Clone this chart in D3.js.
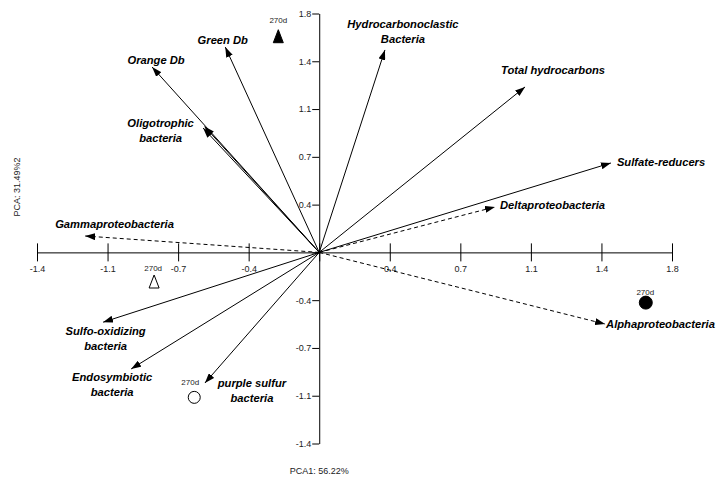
<!DOCTYPE html>
<html>
<head>
<meta charset="utf-8">
<script src="https://cdn.jsdelivr.net/npm/d3@7"></script>
<style>
  body { margin: 0; background: #fff; }
  text { font-family: "Liberation Sans", Arial, sans-serif; }
</style>
</head>
<body>
<script>
const wi = 717, hi = 477;

// loadings (PCA1, PCA2)
const varLabels = [
    ['Hydrocarbonoclastic', 'Bacteria'],
    ['Green Db'],
    ['Orange Db'],
    ['Oligotrophic', 'bacteria'],
    [],
    ['Total hydrocarbons'],
    ['Sulfate-reducers'],
    ['Deltaproteobacteria'],
    ['Alphaproteobacteria'],
    ['Gammaproteobacteria'],
    ['Sulfo-oxidizing', 'bacteria'],
    ['Endosymbiotic', 'bacteria'],
    ['purple sulfur', 'bacteria']
];
const varPC1 = [0.326, -0.466, -0.829, -0.576, -0.569, 1.021, 1.447, 0.872, 1.418, -1.161, -1.072, -0.933, -0.567];
const varPC2 = [1.483, 1.504, 1.358, 0.911, 0.922, 1.212, 0.655, 0.333, -0.525, 0.120, -0.511, -0.854, -0.957];
const dashedVars = ['Deltaproteobacteria', 'Alphaproteobacteria', 'Gammaproteobacteria'];

// samples
const sampleNames = ['270d', '270d', '270d', '270d'];
const samplePC1 = [-0.203, -0.819, -0.620, 1.620];
const samplePC2 = [1.580, -0.217, -1.062, -0.368];

// axes
const tickValues = [-1.4, -1.05, -0.7, -0.35, 0, 0.35, 0.7, 1.05, 1.4, 1.75];
const tickLabels = ['-1.4', '-1.1', '-0.7', '-0.4', '', '0.4', '0.7', '1.1', '1.4', '1.8'];
const xTitle = 'PCA1: 56.22%';
const yTitle = 'PCA: 31.49%2';

// label placement relative to arrow tip: [dx, dy, anchor]
const labelPos = [
    [18, -26, 'middle'], [-2.5, -7, 'middle'], [4, -7, 'middle'], [-42.5, -5, 'middle'], [0, 0, 'middle'],
    [28, -16.5, 'middle'], [6, -0.5, 'start'], [5, -2, 'start'], [1, -0.5, 'start'],
    [-30, -12, 'start'], [2.5, 9, 'middle'], [-19, 8, 'middle'], [47, 0, 'middle']
];
// sample markers: shape, filled, label dx, dy
const sampleStyle = [
    ['triangle', true, 0, -17], ['triangle', false, -1, -14],
    ['circle', false, -4, -15], ['circle', true, -0.5, -11]
];

let svg = d3.select('body')
    .append('svg')
    .attr('width', wi)
    .attr('height', hi);

const x = d3.scaleLinear().domain([-1.4, 1.75]).range([37, 672]);
const y = d3.scaleLinear().domain([-1.4, 1.75]).range([443.5, 13.5]);
const fmt = (d) => tickLabels[tickValues.indexOf(d)];

// x axis through origin
let gx = svg.append('g')
    .attr('transform', `translate(0,${y(0)})`)
    .call(d3.axisBottom(x).tickValues(tickValues).tickFormat(fmt).tickSizeOuter(0));
gx.selectAll('.tick line').attr('y1', -9).attr('y2', 9);
gx.selectAll('.tick text').attr('y', 13).attr('font-size', 9).attr('fill', '#222')
    .attr('font-family', '"Liberation Sans", Arial, sans-serif');

// y axis through origin
let gy = svg.append('g')
    .attr('transform', `translate(${x(0)},0)`)
    .call(d3.axisLeft(y).tickValues(tickValues).tickFormat(fmt).tickSize(7).tickPadding(1).tickSizeOuter(0));
gy.selectAll('.tick text').attr('font-size', 9).attr('fill', '#222')
    .attr('font-family', '"Liberation Sans", Arial, sans-serif');

svg.selectAll('.domain').attr('stroke', '#000');
svg.selectAll('.tick line').attr('stroke', '#000');

// arrowhead
svg.append('defs').append('marker')
    .attr('id', 'head')
    .attr('viewBox', '0 0 10 7')
    .attr('refX', 10).attr('refY', 3.5)
    .attr('markerWidth', 10).attr('markerHeight', 7)
    .attr('markerUnits', 'userSpaceOnUse')
    .attr('orient', 'auto')
    .append('path')
    .attr('d', 'M0,0L10,3.5L0,7Z')
    .attr('fill', '#000');

const vars = varLabels.map((l, i) => ({lines: l, name: l.join(' '), px: varPC1[i], py: varPC2[i], pos: labelPos[i]}));

svg.append('g').selectAll('line')
    .data(vars)
    .enter()
    .append('line')
    .attr('x1', x(0)).attr('y1', y(0))
    .attr('x2', (d) => x(d.px)).attr('y2', (d) => y(d.py))
    .attr('stroke', '#000')
    .attr('stroke-width', 1)
    .attr('stroke-dasharray', (d) => dashedVars.includes(d.name) ? '4,3' : null)
    .attr('marker-end', 'url(#head)');

// variable labels
let lbl = svg.append('g').selectAll('text')
    .data(vars.filter((d) => d.lines.length))
    .enter()
    .append('text')
    .attr('x', (d) => x(d.px) + d.pos[0])
    .attr('y', (d) => y(d.py) + d.pos[1] + 4)
    .attr('text-anchor', (d) => d.pos[2])
    .attr('font-size', 11.2)
    .attr('font-weight', 'bold')
    .attr('font-style', 'italic')
    .attr('fill', '#000');
lbl.selectAll('tspan')
    .data((d) => d.lines.map((t) => ({t: t, x: x(d.px) + d.pos[0]})))
    .enter()
    .append('tspan')
    .attr('x', (d) => d.x)
    .attr('dy', (d, i) => i ? 15 : 0)
    .text((d) => d.t);

// samples
const samples = sampleNames.map((n, i) => ({name: n, px: samplePC1[i], py: samplePC2[i], st: sampleStyle[i]}));
const triPath = 'M0,-7L5,6L-5,6Z';

let sg = svg.append('g').selectAll('g')
    .data(samples)
    .enter()
    .append('g')
    .attr('transform', (d) => `translate(${x(d.px)},${y(d.py)})`);

sg.filter((d) => d.st[0] == 'triangle')
    .append('path')
    .attr('d', triPath)
    .attr('fill', (d) => d.st[1] ? '#000' : '#fff')
    .attr('stroke', '#000');

sg.filter((d) => d.st[0] == 'circle')
    .append('circle')
    .attr('r', (d) => d.st[1] ? 6.5 : 6)
    .attr('fill', (d) => d.st[1] ? '#000' : '#fff')
    .attr('stroke', '#000');

sg.append('text')
    .attr('x', (d) => d.st[2])
    .attr('y', (d) => d.st[3] + 3)
    .attr('text-anchor', 'middle')
    .attr('font-size', 8)
    .attr('fill', '#222')
    .text((d) => d.name);

// axis titles
svg.append('text')
    .attr('x', x(0)).attr('y', 474)
    .attr('text-anchor', 'middle')
    .attr('font-size', 9)
    .attr('fill', '#222')
    .text(xTitle);

svg.append('text')
    .attr('transform', 'translate(20,187) rotate(-90)')
    .attr('text-anchor', 'middle')
    .attr('font-size', 9)
    .attr('fill', '#222')
    .text(yTitle);
</script>
</body>
</html>
